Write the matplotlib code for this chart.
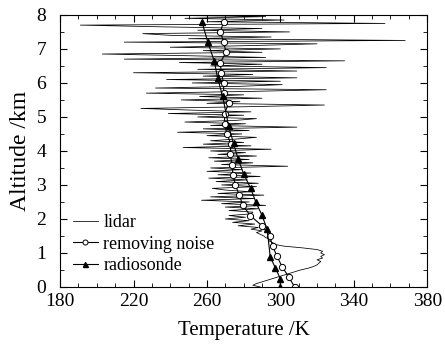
import numpy as np
import matplotlib
matplotlib.use('Agg')
import matplotlib.pyplot as plt
from matplotlib.ticker import MultipleLocator

plt.rcParams['font.family'] = 'Liberation Serif'

# lidar profile, 0.05 km steps from 0 to 8 km
lidar_alt = np.round(np.arange(0, 8.001, 0.05), 2)
lidar_temp = [
    289, 285, 287, 290, 293, 296, 299, 302, 305, 308,   # 0.00-0.45
    311, 315, 318, 320, 321, 322, 320, 323, 322, 324,   # 0.50-0.95
    322, 323, 320, 312, 302, 297, 296, 294, 295, 292,   # 1.00-1.45
    291, 289, 287, 290, 284, 288, 277, 286, 274, 283,   # 1.50-1.95
    270, 281, 272, 284, 285, 272, 288, 270, 292, 268,   # 2.00-2.45
    283, 257, 286, 262, 291, 266, 284, 270, 263, 287,   # 2.50-2.95
    268, 288, 265, 282, 261, 289, 266, 284, 260, 279,   # 3.00-3.45
    262, 304, 268, 285, 264, 283, 261, 287, 266, 281,   # 3.50-3.95
    262, 295, 247, 284, 258, 280, 262, 276, 287, 260,   # 4.00-4.45
    279, 244, 283, 258, 309, 262, 281, 248, 276, 287,   # 4.50-4.95
    255, 280, 239, 284, 252, 224, 281, 324, 260, 278,   # 5.00-5.45
    246, 290, 256, 280, 227, 283, 325, 232, 278, 301,   # 5.50-5.95
    252, 300, 238, 309, 258, 285, 220, 309, 255, 325,   # 6.00-6.45
    262, 290, 245, 335, 215, 292, 250, 203, 290, 258,   # 6.50-6.95
    300, 240, 285, 320, 215, 368, 250, 295, 240, 225,   # 7.00-7.45
    305, 255, 290, 235, 191, 357, 260, 302, 248, 292,   # 7.50-7.95
    225,                                                # 8.00
]

# smoothed profile ("removing noise")
smooth_alt = [0.0, 0.3, 0.6, 0.9, 1.2, 1.5, 1.8, 2.1, 2.4, 2.7, 3.0, 3.3, 3.6, 3.9,
              4.2, 4.5, 4.8, 5.1, 5.4, 5.7, 6.0, 6.3, 6.6, 6.9, 7.2, 7.5, 7.8]
smooth_temp = [307.8, 304.5, 300.9, 298.2, 295.8, 294.2, 290.0, 283.6, 279.6, 277.6,
               275.5, 274.2, 273.6, 272.7, 273.1, 270.9, 269.6, 269.6, 271.8, 269.1,
               269.1, 267.8, 267.3, 270.4, 269.1, 267.3, 269.1]

# radiosonde
sonde_alt = [0.0, 0.24, 0.56, 0.88, 1.70, 2.12, 2.49, 2.90, 3.33, 3.76, 4.22,
             4.74, 5.62, 6.15, 6.64, 7.20, 7.79]
sonde_temp = [300.0, 300.0, 297.3, 294.5, 292.8, 289.9, 286.7, 283.8, 280.0, 277.0,
              274.5, 271.8, 268.5, 265.8, 264.0, 260.5, 257.3]

x_ticks = [180, 220, 260, 300, 340, 380]

fig = plt.figure(figsize=(4.45, 3.47), dpi=100)
ax = fig.add_axes([0.135, 0.173, 0.825, 0.784])

ax.plot(lidar_temp, lidar_alt, color='black', lw=0.55, label='lidar')
ax.plot(smooth_temp, smooth_alt, color='black', lw=0.8, marker='o', ms=4.5,
        mfc='white', mec='black', mew=0.7, label='removing noise')
ax.plot(sonde_temp, sonde_alt, color='black', lw=0.8, marker='^', ms=4.5,
        mfc='black', mec='black', label='radiosonde')

ax.set_xlim(180, 380)
ax.set_ylim(0, 8)
ax.set_xticks(x_ticks)
ax.xaxis.set_minor_locator(MultipleLocator(10))
ax.yaxis.set_major_locator(MultipleLocator(1))
ax.yaxis.set_minor_locator(MultipleLocator(0.5))
ax.tick_params(which='both', direction='in', top=True, right=True, labelsize=14)
ax.tick_params(axis='x', which='both', pad=4)
ax.tick_params(axis='y', which='both', pad=10)
ax.tick_params(which='major', length=5)
ax.tick_params(which='minor', length=3)

ax.set_xlabel('Temperature /K', fontsize=15, labelpad=8)
ax.set_ylabel('Altitude /km', fontsize=17, labelpad=4)

ax.legend(loc='lower left', bbox_to_anchor=(0.0, 0.0), frameon=False, fontsize=13,
          handlelength=1.4, handletextpad=0.3, labelspacing=0.25, borderaxespad=0.3,
          markerscale=0.8)

fig.savefig('out.png', dpi=100)
